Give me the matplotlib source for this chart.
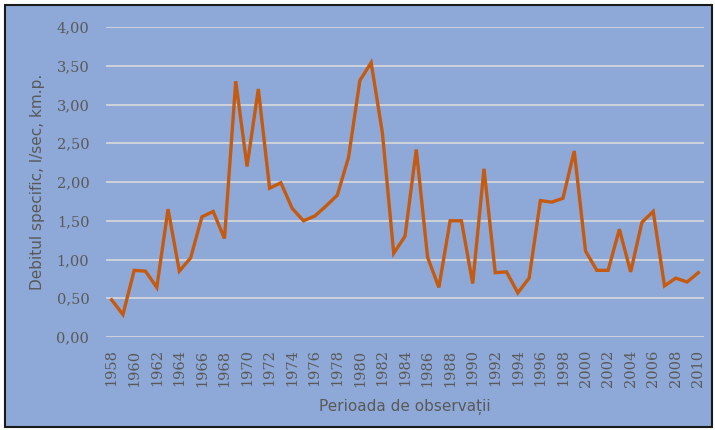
import matplotlib
matplotlib.use("Agg")
import matplotlib.pyplot as plt
from matplotlib.patches import Rectangle

years = list(range(1958, 2011))
debit = [0.48, 0.29, 0.86, 0.85, 0.64, 1.65, 0.85, 1.02, 1.55, 1.62,
         1.27, 3.30, 2.20, 3.20, 1.92, 1.99, 1.66, 1.50, 1.56, 1.69,
         1.83, 2.32, 3.31, 3.54, 2.63, 1.08, 1.30, 2.42, 1.03, 0.64,
         1.50, 1.50, 0.69, 2.17, 0.83, 0.84, 0.57, 0.76, 1.76, 1.74,
         1.79, 2.40, 1.11, 0.86, 0.86, 1.39, 0.84, 1.48, 1.62, 0.66,
         0.76, 0.71, 0.83]
yticks = [0.0, 0.5, 1.0, 1.5, 2.0, 2.5, 3.0, 3.5, 4.0]
ytick_labels = ["0,00", "0,50", "1,00", "1,50", "2,00", "2,50", "3,00", "3,50", "4,00"]
xtick_years = list(range(1958, 2011, 2))

W, H = 715, 430
bg = "#8EA9D7"
txt = "#595959"
fig = plt.figure(figsize=(W / 100, H / 100), dpi=100)
fig.patch.set_facecolor("white")
fig.patches.append(Rectangle((5 / W, 3 / H), (W - 8) / W, (H - 8) / H,
                             transform=fig.transFigure, facecolor=bg,
                             edgecolor="#1a1a1a", linewidth=1.5, zorder=-1))

ax = fig.add_axes([106 / W, 1 - 337 / H, (704 - 106) / W, (337 - 27) / H])
ax.patch.set_alpha(0)
ax.plot(years, debit, color="#C55A11", linewidth=2.4, solid_joinstyle="miter", zorder=3)
ax.set_xlim(1957.5, 2010.5)
ax.set_ylim(0, 4.0)
ax.set_yticks(yticks)
ax.set_yticklabels(ytick_labels, family="DejaVu Serif")
ax.set_xticks(xtick_years)
ax.set_xticklabels([str(y) for y in xtick_years], rotation=90, family="DejaVu Serif")
ax.grid(axis="y", color="#D9D9D9", linewidth=1.2, zorder=1)
ax.set_axisbelow(True)
for s in ax.spines.values():
    s.set_visible(False)
ax.tick_params(axis="both", length=0, colors=txt, labelsize=10.5)
ax.tick_params(axis="y", pad=12)
ax.tick_params(axis="x", pad=9)
ax.set_ylabel("Debitul specific, l/sec, km.p.", color=txt, fontsize=11, labelpad=8)
ax.set_xlabel("Perioada de observații", color=txt, fontsize=11, labelpad=9)

fig.savefig("out.png", dpi=100, facecolor=fig.get_facecolor())
